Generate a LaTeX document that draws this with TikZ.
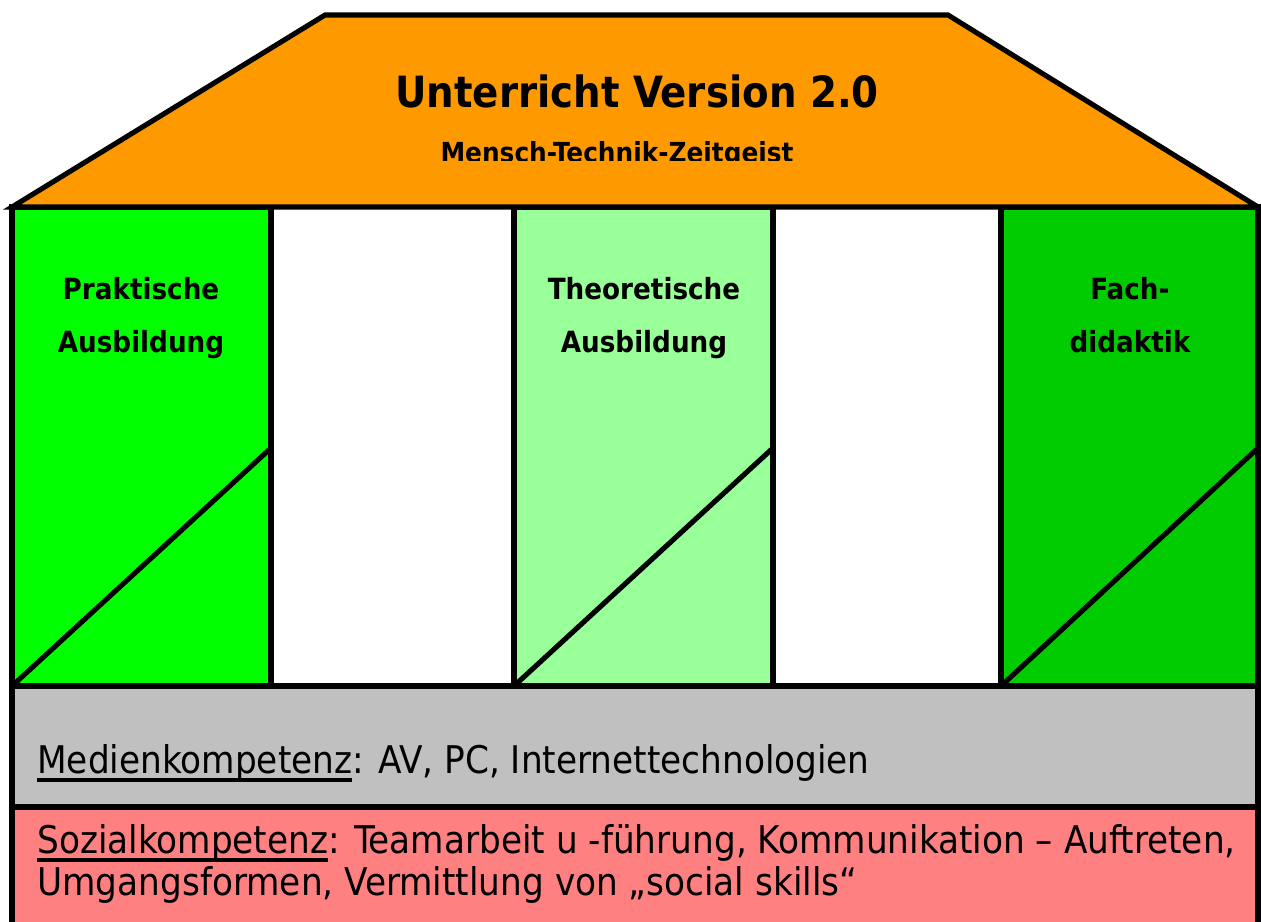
\documentclass[tikz,border=0pt]{standalone}
\usepackage{fontspec}
\setmainfont{DejaVu Sans Condensed}
\usepackage{xcolor}
\usepackage{tikz}
\usetikzlibrary{positioning}
\definecolor{dach}{HTML}{FF9900}
\definecolor{praxis}{HTML}{00FF00}
\definecolor{theorie}{HTML}{99FF99}
\definecolor{didaktik}{HTML}{00CC00}
\definecolor{medien}{HTML}{C0C0C0}
\definecolor{sozial}{HTML}{FF8080}
\newcommand{\kompetenz}[1]{\leavevmode\setbox0\hbox{#1}\rlap{\rule[-5.2pt]{\wd0}{2.2pt}}\box0}

\begin{document}
\begin{tikzpicture}[
			x=0.02cm, y=-0.02cm,
			bauteil/.style={draw=black, line width=2.9pt},
			titel/.style={font=\bfseries\fontsize{24.5}{30}\selectfont, anchor=base, inner sep=0pt},
			motto/.style={font=\bfseries\fontsize{15.7}{18}\selectfont, anchor=base, inner sep=0pt},
			saeule/.style={font=\bfseries\fontsize{16.6}{20}\selectfont, anchor=base, inner sep=0pt},
			zeile/.style={font=\fontsize{21.7}{26}\selectfont, anchor=base west, inner sep=0pt},
		]

			\clip (0,0) rectangle (1261,921);

			% Saeulen mit Schraegstrich
			\draw[bauteil, fill=praxis] (12,207) rectangle (271,686);
			\draw[bauteil] (12,686) -- (271,448);
			\draw[bauteil, fill=theorie] (514,207) rectangle (773,686);
			\draw[bauteil] (514,686) -- (773,448);
			\draw[bauteil, fill=didaktik] (1001,207) rectangle (1258,686);
			\draw[bauteil] (1001,686) -- (1258,448);

			% Fundament
			\draw[bauteil, fill=medien] (12,686) rectangle (1258,807);
			\draw[bauteil, fill=sozial] (12,807) rectangle (1258,960);

			% Dach
			\draw[bauteil, fill=dach] (12,207) -- (325,15) -- (948,15) -- (1258,207) -- cycle;

			\node[titel] (titel) at (637,107) {Unterricht Version 2.0};
			\begin{scope}
				\clip (0,0) rectangle (1261,160);
				\node[motto] (motto) at (617,162) {Mensch-Technik-Zeitgeist};
			\end{scope}

			\node[saeule] (praxisA) at (141,299) {Praktische};
			\node[saeule] (praxisB) at (141,352) {Ausbildung};
			\node[saeule] (theorieA) at (644,299) {Theoretische};
			\node[saeule] (theorieB) at (644,352) {Ausbildung};
			\node[saeule] (didaktikA) at (1130,299) {Fach-};
			\node[saeule] (didaktikB) at (1130,352) {didaktik};

			\node[zeile] (medientext) at (37,773) {\kompetenz{Medienkompetenz}: AV, PC, Internettechnologien};
			\node[zeile] (sozialA) at (37,853) {\kompetenz{Sozialkompetenz}: Teamarbeit u -führung, Kommunikation – Auftreten,};
			\node[zeile] (sozialB) at (37,895) {Umgangsformen, Vermittlung von „social skills“};

		\end{tikzpicture}
\end{document}
